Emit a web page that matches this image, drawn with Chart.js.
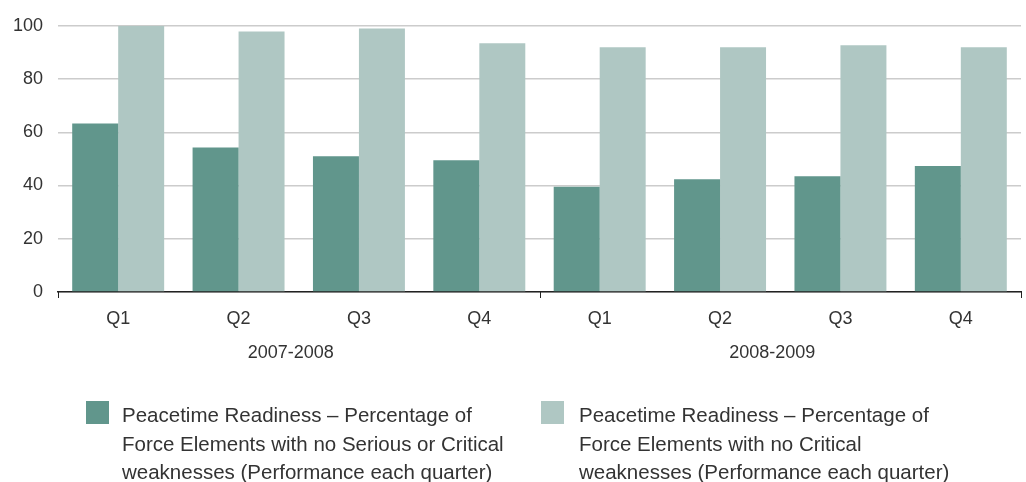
<!DOCTYPE html>
<html>
<head>
<meta charset="utf-8">
<script src="https://cdn.jsdelivr.net/npm/chart.js@4.4.0/dist/chart.umd.min.js"></script>
<style>
  html, body { margin: 0; padding: 0; background: #fff; }
  #wrap { position: relative; width: 1026px; height: 482px; }
</style>
</head>
<body>
<div id="wrap"><canvas id="chart"></canvas></div>
<script>
const quarters = ["Q1", "Q2", "Q3", "Q4", "Q1", "Q2", "Q3", "Q4"];
const years = ["2007-2008", "2008-2009"];
const seriousOrCritical = [63.3, 54.3, 51.0, 49.5, 39.5, 42.4, 43.5, 47.3];
const noCritical = [100, 97.9, 99.0, 93.4, 91.9, 91.9, 92.7, 91.9];
const seriesNames = [
  ["Peacetime Readiness \u2013 Percentage of", "Force Elements with no Serious or Critical", "weaknesses (Performance each quarter)"],
  ["Peacetime Readiness \u2013 Percentage of", "Force Elements with no Critical", "weaknesses (Performance each quarter)"]
];
const yTicks = [0, 20, 40, 60, 80, 100];

const colors = ["#61968c", "#afc7c3"];
const textColor = "#333";
const fontFamily = "'Liberation Sans', Arial, sans-serif";

// year labels, group ticks and the wrapped legend
const extras = {
  id: "extras",
  afterDraw(chart) {
    const ctx = chart.ctx;
    const x = chart.scales.x;
    const area = chart.chartArea;
    const perYear = quarters.length / years.length;
    const step = (x.right - x.left) / quarters.length;

    ctx.save();
    // tick marks at group boundaries
    ctx.strokeStyle = "#222";
    ctx.lineWidth = 1;
    for (let g = 0; g <= years.length; g++) {
      const px = Math.round(x.left + g * perYear * step) + 0.5;
      ctx.beginPath();
      ctx.moveTo(px, area.bottom);
      ctx.lineTo(px, area.bottom + 6);
      ctx.stroke();
    }
    // year labels
    ctx.fillStyle = textColor;
    ctx.font = "18px " + fontFamily;
    ctx.textAlign = "center";
    ctx.textBaseline = "middle";
    years.forEach((y, g) => {
      const cx = x.left + (g + 0.5) * perYear * step - 8;
      ctx.fillText(y, cx, area.bottom + 61);
    });

    // legend
    const legendX = [86, 541];
    const textGap = [36, 38];
    ctx.textAlign = "left";
    ctx.textBaseline = "alphabetic";
    ctx.font = "20.5px " + fontFamily;
    seriesNames.forEach((lines, i) => {
      ctx.fillStyle = colors[i];
      ctx.fillRect(legendX[i], 401, 23, 23);
      ctx.fillStyle = textColor;
      lines.forEach((t, j) => ctx.fillText(t, legendX[i] + textGap[i], 422 + j * 28.5));
    });
    ctx.restore();
  }
};

new Chart(document.getElementById("chart"), {
  type: "bar",
  data: {
    labels: quarters,
    datasets: [
      { label: seriesNames[0].join(" "), data: seriousOrCritical, backgroundColor: colors[0] },
      { label: seriesNames[1].join(" "), data: noCritical, backgroundColor: colors[1] }
    ]
  },
  options: {
    responsive: true,
    maintainAspectRatio: false,
    animation: false,
    categoryPercentage: 0.764,
    barPercentage: 1.0,
    layout: { padding: { top: 23, right: 5, left: 0, bottom: 0 } },
    plugins: {
      legend: { display: false },
      tooltip: { enabled: false }
    },
    scales: {
      x: {
        grid: { display: false, drawTicks: false },
        border: { display: true, color: "#222", width: 1.5 },
        ticks: { color: textColor, font: { family: fontFamily, size: 18 }, padding: 16 },
        afterFit(scale) { scale.height = 190; }
      },
      y: {
        min: 0,
        max: 100,
        afterBuildTicks(scale) { scale.ticks = yTicks.map(v => ({ value: v })); },
        grid: { color: "#cccccc", lineWidth: 1.5, drawTicks: false },
        border: { display: false },
        ticks: { color: textColor, font: { family: fontFamily, size: 18 }, padding: 15 },
        afterFit(scale) { scale.width = 58; }
      }
    }
  },
  plugins: [extras]
});
</script>
</body>
</html>
